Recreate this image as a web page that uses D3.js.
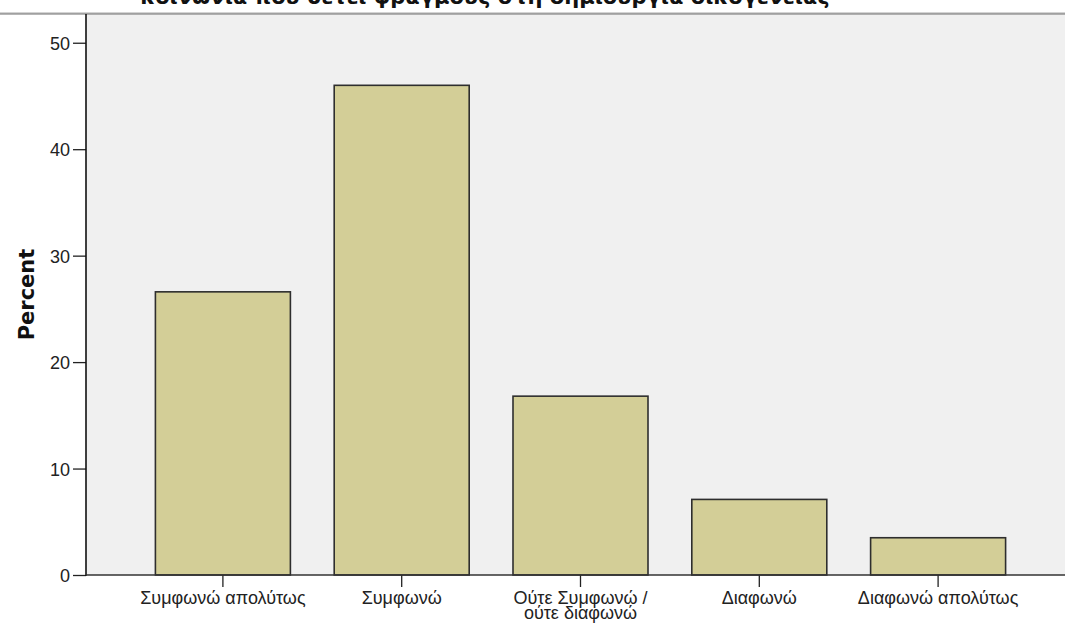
<!DOCTYPE html>
<html>
<head>
<meta charset="utf-8">
<script src="https://cdn.jsdelivr.net/npm/d3@7"></script>
<style>
  body { margin: 0; background: #fff; }
  svg { display: block; }
</style>
</head>
<body>
<svg id="chart" width="1065" height="624"></svg>
<script>
// Chart data
const categories = ["Συμφωνώ απολύτως", "Συμφωνώ", "Ούτε Συμφωνώ / ούτε διαφωνώ", "Διαφωνώ", "Διαφωνώ απολύτως"];
const categoryLines = [["Συμφωνώ απολύτως"], ["Συμφωνώ"], ["Ούτε Συμφωνώ /", "ούτε διαφωνώ"], ["Διαφωνώ"], ["Διαφωνώ απολύτως"]];
const percents = [26.6, 46.0, 16.8, 7.1, 3.5];
const yTicks = [0, 10, 20, 30, 40, 50];
const titleText = "κοινωνία που θέτει φραγμούς στη δημιουργία οικογένειας";

const svg = d3.select("#chart");
const width = +svg.attr("width");

const plot = { left: 86, right: 1065, top: 14, bottom: 575 };
const labelFont = "Liberation Sans, Arial, sans-serif";

const y = d3.scaleLinear()
    .domain([0, 52.7])
    .range([plot.bottom, plot.top]);

const x = d3.scaleBand()
    .domain(categories)
    .range([133.5, 1027.5])
    .paddingInner(0.245)
    .paddingOuter(0.1225);

// plot background
svg.append("rect")
    .attr("x", plot.left)
    .attr("y", plot.top)
    .attr("width", plot.right - plot.left)
    .attr("height", plot.bottom - plot.top)
    .attr("fill", "#f0f0f0");

// top frame line
svg.append("line")
    .attr("x1", 0).attr("x2", width)
    .attr("y1", plot.top - 1).attr("y2", plot.top - 1)
    .attr("stroke", "#a8a8a8").attr("stroke-width", 1);
svg.append("line")
    .attr("x1", 0).attr("x2", width)
    .attr("y1", plot.top).attr("y2", plot.top)
    .attr("stroke", "#6e6e6e").attr("stroke-width", 1.2);

// bars
svg.append("g")
    .selectAll("rect")
    .data(categories)
    .join("rect")
    .attr("x", d => x(d))
    .attr("y", (d, i) => y(percents[i]))
    .attr("width", x.bandwidth())
    .attr("height", (d, i) => y(0) - y(percents[i]))
    .attr("fill", "#d3ce97")
    .attr("stroke", "#2e2e2e")
    .attr("stroke-width", 1.6);

// y axis
const yAxis = svg.append("g")
    .attr("transform", `translate(${plot.left},0)`)
    .call(d3.axisLeft(y).tickValues(yTicks).tickSize(13).tickSizeOuter(0));
yAxis.select(".domain").remove();
yAxis.selectAll(".tick line").attr("stroke", "#222").attr("stroke-width", 1.3);
yAxis.selectAll(".tick text")
    .attr("x", -16)
    .attr("dy", "0.36em")
    .attr("font-family", labelFont)
    .attr("font-size", 18)
    .attr("fill", "#222");

svg.append("line")
    .attr("x1", plot.left).attr("x2", plot.left)
    .attr("y1", plot.top).attr("y2", plot.bottom + 1)
    .attr("stroke", "#111").attr("stroke-width", 1.6);

// x axis
const xAxis = svg.append("g")
    .attr("transform", `translate(0,${plot.bottom})`)
    .call(d3.axisBottom(x).tickSize(12).tickSizeOuter(0).tickFormat(""));
xAxis.select(".domain").remove();
xAxis.selectAll(".tick line").attr("stroke", "#222").attr("stroke-width", 1.3);

svg.append("line")
    .attr("x1", plot.left).attr("x2", plot.right)
    .attr("y1", plot.bottom).attr("y2", plot.bottom)
    .attr("stroke", "#333").attr("stroke-width", 1.6);

const xLabels = svg.append("g")
    .selectAll("text")
    .data(categories)
    .join("text")
    .attr("x", d => x(d) + x.bandwidth() / 2)
    .attr("y", plot.bottom + 29)
    .attr("text-anchor", "middle")
    .attr("font-family", labelFont)
    .attr("font-size", 18)
    .attr("fill", "#222");
xLabels.selectAll("tspan")
    .data((d, i) => categoryLines[i])
    .join("tspan")
    .attr("x", function() { return d3.select(this.parentNode).attr("x"); })
    .attr("dy", (d, i) => i === 0 ? 0 : 15)
    .text(d => d);

// y axis title
svg.append("text")
    .attr("transform", `translate(34,${(plot.top + plot.bottom) / 2}) rotate(-90)`)
    .attr("text-anchor", "middle")
    .attr("font-family", "DejaVu Sans, sans-serif")
    .attr("font-weight", "bold")
    .attr("font-size", 21)
    .attr("fill", "#111")
    .text("Percent");

// chart title (cut at top in the original)
svg.append("text")
    .attr("x", 485)
    .attr("y", 4)
    .attr("text-anchor", "middle")
    .attr("font-family", "DejaVu Sans, sans-serif")
    .attr("font-weight", "bold")
    .attr("font-size", 21)
    .attr("fill", "#111")
    .text(titleText);
</script>
</body>
</html>
